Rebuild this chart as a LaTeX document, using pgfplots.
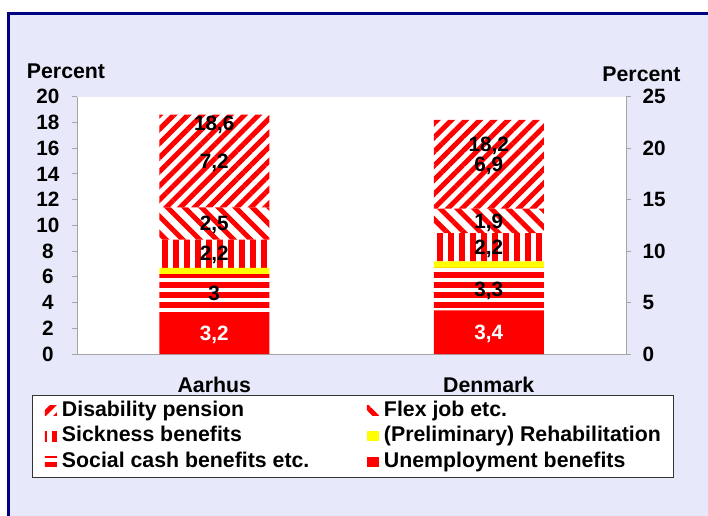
\documentclass[border=0pt]{standalone}
\usepackage{pgfplots}
\pgfplotsset{compat=1.18}
\usepackage{fontspec}
\setmainfont{Liberation Sans}
\usetikzlibrary{patterns,patterns.meta}
\definecolor{lav}{RGB}{231,233,250}
\definecolor{navy}{RGB}{0,0,128}
\definecolor{axgray}{RGB}{165,165,165}
\definecolor{xred}{RGB}{255,0,0}
\definecolor{xyellow}{RGB}{255,255,0}

\newcommand{\bigf}{\fontsize{21.3}{25}\selectfont\bfseries}
\newcommand{\tickf}{\fontsize{20.7}{24}\selectfont\bfseries}

\pgfplotsset{
  myleg/.style={legend image code/.code={%
      \path (0pt,-5pt) (25pt,5pt);
      \path[##1,draw=none] (13pt,-5pt) rectangle (25pt,5pt);}},
}

\begin{document}
\begin{tikzpicture}
\path[use as bounding box] (0pt,0pt) rectangle (708pt,515pt);
\fill[white] (0pt,0pt) rectangle (708pt,515pt);
\begin{scope}
\clip (0pt,0pt) rectangle (708pt,515pt);
\filldraw[fill=lav, draw=navy, line width=2.5pt] (8.7pt,-20pt) rectangle (730pt,501.5pt);
\end{scope}

\begin{axis}[
  at={(77pt,161pt)}, anchor=south west,
  width=549pt, height=257.3pt, scale only axis,
  ybar stacked, bar width=110pt,
  xmin=-0.5, xmax=1.5, ymin=0, ymax=20,
  xtick={0,1}, xticklabels={Aarhus,Denmark},
  ytick={0,2,...,20},
  axis x line*=bottom, axis y line*=left,
  axis line style={draw=axgray, line width=0.8pt},
  tick align=outside, major tick length=5pt,
  ytick style={draw=axgray, line width=0.8pt},
  xtick style={draw=none},
  axis background/.style={fill=white},
  /pgf/number format/assume math mode=true,
  tick label style={font=\tickf},
  yticklabel style={anchor=center, xshift=-24pt},
  xticklabel style={anchor=base, yshift=-33pt, font=\bigf},
  legend columns=2, reverse legend,
  legend cell align=left,
  legend style={at={(0.5018,-0.1593)}, anchor=north, draw=black!80, line width=0.8pt,
     fill=white, inner xsep=0pt, inner ysep=2.75pt, font=\bigf, row sep=0pt, column sep=0pt,
     nodes={inner xsep=5pt, inner ysep=3.25pt, text height=15pt, text depth=4pt}},
]
\addplot[myleg, fill=xred, draw=none] coordinates {(0,3.2) (1,3.4)};
\addlegendentry{\makebox[284pt][l]{Unemployment benefits}}
\addplot[myleg, pattern={Lines[angle=0,distance=10pt,line width=6pt]}, pattern color=xred, draw=none] coordinates {(0,3.0) (1,3.3)};
\addlegendentry{\makebox[287pt][l]{Social cash benefits etc.}}
\addplot[myleg, fill=xyellow, draw=none] coordinates {(0,0.5) (1,0.5)};
\addlegendentry{\makebox[284pt][l]{(Preliminary) Rehabilitation}}
\addplot[myleg, pattern={Lines[angle=90,distance=11pt,line width=5.5pt]}, pattern color=xred, draw=none] coordinates {(0,2.2) (1,2.2)};
\addlegendentry{\makebox[287pt][l]{Sickness benefits}}
\addplot[myleg, pattern={Lines[angle=-45,distance=12pt,line width=5pt]}, pattern color=xred, draw=none] coordinates {(0,2.5) (1,1.9)};
\addlegendentry{\makebox[284pt][l]{Flex job etc.}}
\addplot[myleg, pattern={Lines[angle=45,distance=10pt,line width=5pt]}, pattern color=xred, draw=none] coordinates {(0,7.2) (1,6.9)};
\addlegendentry{\makebox[287pt][l]{Disability pension}}

\coordinate (a1) at (axis cs:0,1.6);
\coordinate (a2) at (axis cs:0,4.7);
\coordinate (a3) at (axis cs:0,7.8);
\coordinate (a4) at (axis cs:0,10.15);
\coordinate (a5) at (axis cs:0,15.0);
\coordinate (a6) at (axis cs:0,17.95);
\coordinate (d1) at (axis cs:1,1.7);
\coordinate (d2) at (axis cs:1,5.05);
\coordinate (d3) at (axis cs:1,8.3);
\coordinate (d4) at (axis cs:1,10.35);
\coordinate (d5) at (axis cs:1,14.75);
\coordinate (d6) at (axis cs:1,16.3);
\end{axis}

\begin{axis}[
  at={(77pt,161pt)}, anchor=south west,
  width=549pt, height=257.3pt, scale only axis,
  xmin=-0.5, xmax=1.5, ymin=0, ymax=25,
  ytick={0,5,...,25},
  axis x line=none, axis y line*=right,
  axis line style={draw=axgray, line width=0.8pt},
  tick align=outside, major tick length=5pt,
  ytick style={draw=axgray, line width=0.8pt},
  /pgf/number format/assume math mode=true,
  tick label style={font=\tickf},
  yticklabel style={anchor=west, xshift=8pt},
]
\addplot[draw=none] coordinates {(0,0) (1,25)};
\end{axis}

\tikzset{lbl/.style={font=\tickf, anchor=base, yshift=-7.3pt, inner sep=0pt}}
\node[lbl, text=white] at (a1) {3,2};
\node[lbl] at (a2) {3};
\node[lbl] at (a3) {2,2};
\node[lbl] at (a4) {2,5};
\node[lbl] at (a5) {7,2};
\node[lbl] at (a6) {18,6};
\node[lbl, text=white] at (d1) {3,4};
\node[lbl] at (d2) {3,3};
\node[lbl] at (d3) {2,2};
\node[lbl] at (d4) {1,9};
\node[lbl] at (d5) {6,9};
\node[lbl] at (d6) {18,2};

\node[font=\bigf, anchor=base] at (66pt,436pt) {Percent};
\node[font=\bigf, anchor=base] at (641.5pt,433pt) {Percent};
\end{tikzpicture}
\end{document}
